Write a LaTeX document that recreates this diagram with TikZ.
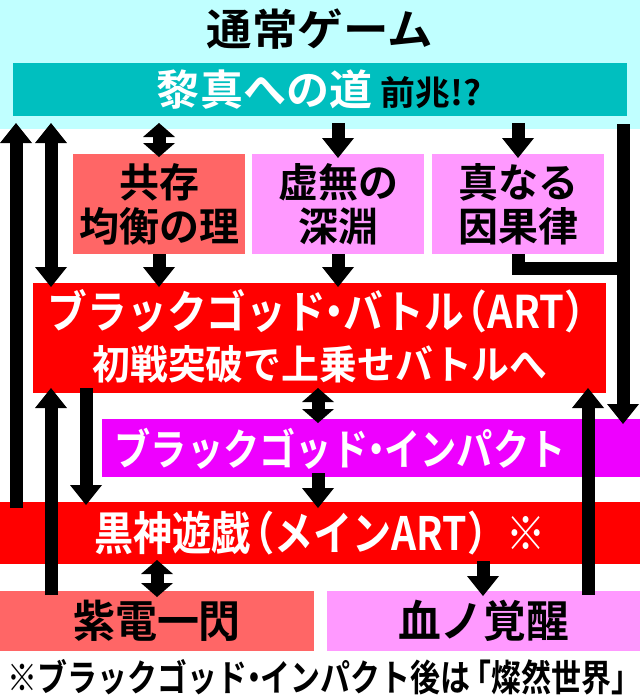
\documentclass[tikz,border=0pt]{standalone}
\usepackage{graphicx}
\usepackage{fontspec}
\newfontfamily\jp{Noto Sans CJK JP}[UprightFont=* Bold]
\usetikzlibrary{arrows.meta,calc}
\definecolor{lcyan}{HTML}{C0FFFF}
\definecolor{tealbox}{HTML}{00BFBF}
\definecolor{salmon}{HTML}{FF6666}
\definecolor{pinkbox}{HTML}{FF99FF}
\definecolor{redbox}{HTML}{FF0000}
\definecolor{magbox}{HTML}{EE00FF}
\newcommand\fw[2]{\resizebox{#1}{\height}{#2}}
\newcommand\fsz[1]{\fontsize{#1}{#1}\selectfont}
\newcommand\dt{\kern-0.28em・\kern-0.28em}
\newcommand\lp{\kern-0.4em（}
\newcommand\rp{）\kern-0.3em}
\begin{document}
\begin{tikzpicture}[x=1pt,y=-1pt,
  box/.style={inner sep=0pt,outer sep=0pt,font=\jp},
  twoline/.style={box,align=center,font=\jp\fontsize{40pt}{44pt}\selectfont},
  txt/.style={inner sep=0pt,outer sep=0pt,font=\jp},
  arr/.style={line width=13pt,-{Triangle[width=32pt,length=20pt,line width=0pt]}},
  barr/.style={line width=13pt,{Triangle[width=32pt,length=20pt,line width=0pt]}-{Triangle[width=32pt,length=20pt,line width=0pt]}},
  darr/.style={line width=13pt,{Triangle[width=32pt,length=14pt,line width=0pt]}-{Triangle[width=32pt,length=14pt,line width=0pt]}},
  ln/.style={line width=13pt}]
\useasboundingbox (0,0) rectangle (640,699);
\fill[lcyan] (0,0) rectangle (640,129);

% boxes
\node[txt] (title) at (320,29) {\fw{226pt}{\fsz{43}通常ゲーム}};
\node[box,fill=tealbox,minimum width=614pt,minimum height=53pt] (road) at (320,89.5) {};
\node[txt,text=white] (roadtxt) at (319,90) {\fw{324pt}{\fsz{42}黎真への道\hspace{8pt}{\color{black}\fsz{34}前兆!?}}};

\node[twoline,fill=salmon,minimum width=172pt,minimum height=100pt] (coex) at (159,204) {共存\\均衡の理};
\node[twoline,fill=pinkbox,minimum width=172pt,minimum height=100pt] (void) at (338,204) {虚無の\\深淵};
\node[twoline,fill=pinkbox,minimum width=172pt,minimum height=100pt] (cause) at (518,204) {真なる\\因果律};

\node[box,fill=redbox,minimum width=573pt,minimum height=110pt] (battle) at (319.5,338) {};
\node[txt,text=white] (bt1) at (320,311) {\fw{544pt}{\fsz{45}ブラックゴッド\dt バトル\lp ART\rp}};
\node[txt,text=white] (bt2) at (320,364) {\fw{455pt}{\fsz{40}初戦突破で上乗せバトルへ}};

\node[box,fill=magbox,minimum width=538pt,minimum height=58pt] (impact) at (371,448) {};
\node[txt,text=white] (imptxt) at (340,449) {\fw{451pt}{\fsz{43}ブラックゴッド\dt インパクト}};

\node[box,fill=redbox,minimum width=640pt,minimum height=62pt,text=white] (kokushin) at (320,533) {\fw{451pt}{\fsz{46}黒神遊戯\lp メインART）※}};

\node[box,fill=salmon,minimum width=314pt,minimum height=60pt] (shiden) at (157,621) {\fw{168pt}{\fsz{44}紫電一閃}};
\node[box,fill=pinkbox,minimum width=313pt,minimum height=60pt] (chi) at (483.5,621) {\fw{171pt}{\fsz{44}血ノ覚醒}};

\node[txt] (foot) at (320,677) {\fw{624pt}{\fsz{37}※ブラックゴッド\dt インパクト後は\kern-0.3em「燦然世界」\kern-0.3em}};

% x positions of vertical connectors
\coordinate (xa) at (16,0);
\coordinate (xb) at (51,0);
\coordinate (xc) at (86,0);
\coordinate (xd) at (318,0);
\coordinate (xe) at (588,0);
\coordinate (xf) at (623,0);
\coordinate (xg) at (483,0);
\coordinate (xh) at (157,0);
\coordinate (elb) at (623,268);

% connectors
\draw[arr] ($(kokushin.north -| xa)+(0,6)$) -- ($(road.south -| xa)+(0,7)$);
\draw[barr] ($(road.south -| xb)+(0,7)$) -- ($(battle.north -| xb)+(0,4)$);
\draw[darr] ($(road.south -| coex.north)+(0,7)$) -- ($(coex.north)+(0,3)$);
\draw[arr] ($(road.south -| void.north)+(0,7)$) -- ($(void.north)+(0,4)$);
\draw[arr] ($(road.south -| cause.north)+(0,7)$) -- ($(cause.north)+(0,4)$);
\draw[arr] ($(road.south -| xf)+(0,8)$) -- ($(impact.north -| xf)+(0,5)$);
\draw[ln] (cause.south) |- (elb);
\draw[arr] (coex.south) -- ($(battle.north -| coex.south)+(0,4)$);
\draw[arr] (void.south) -- ($(battle.north -| void.south)+(0,4)$);
\draw[arr] ($(shiden.north -| xb)+(0,4)$) -- ($(battle.south -| xb)+(0,-5)$);
\draw[arr] ($(battle.south -| xc)+(0,-5)$) -- ($(kokushin.north -| xc)+(0,3)$);
\draw[darr] ($(battle.south -| xd)+(0,-5)$) -- ($(impact.north -| xd)+(0,4)$);
\draw[arr] ($(impact.south -| xd)+(0,-4)$) -- ($(kokushin.north -| xd)+(0,6)$);
\draw[arr] ($(chi.north -| xe)+(0,4)$) -- ($(battle.south -| xe)+(0,-5)$);
\draw[darr] ($(kokushin.south -| xh)+(0,-4)$) -- ($(shiden.north -| xh)+(0,6)$);
\draw[arr] ($(kokushin.south -| xg)+(0,-3)$) -- ($(chi.north -| xg)+(0,5)$);
\end{tikzpicture}
\end{document}
